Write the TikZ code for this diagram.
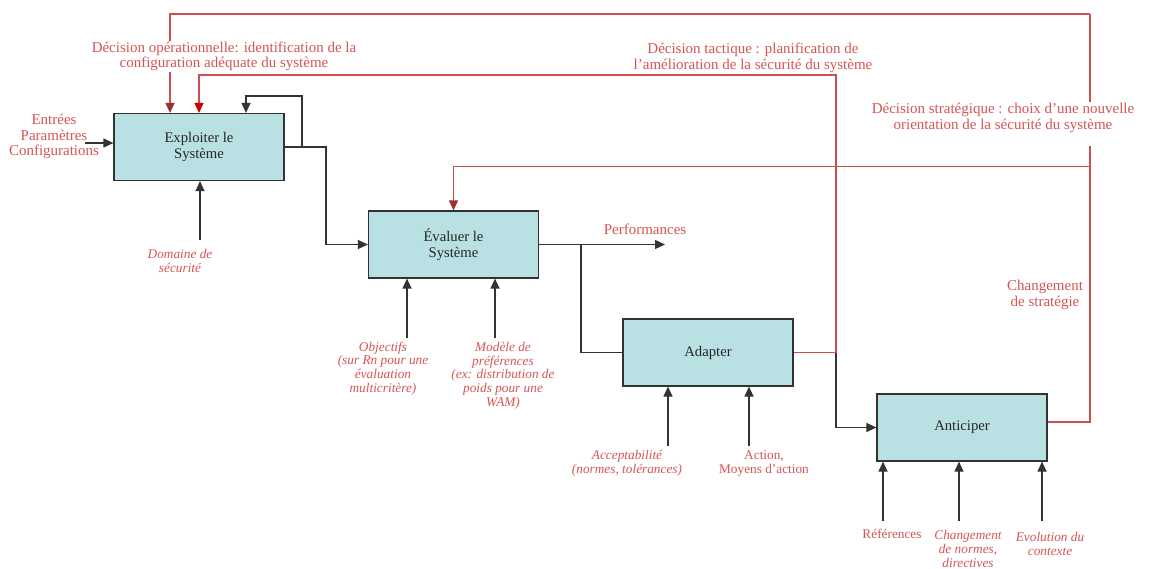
\documentclass[tikz,border=0pt]{standalone}
\usepackage{fontspec}
\setmainfont{Liberation Serif}
\usetikzlibrary{arrows.meta}
\definecolor{boxfill}{RGB}{185,224,227}
\definecolor{boxline}{RGB}{50,50,50}
\definecolor{redline}{RGB}{205,80,80}
\definecolor{redtxt}{RGB}{214,84,84}
\definecolor{darkhead}{RGB}{158,48,48}
\definecolor{brighthead}{RGB}{204,0,0}
\begin{document}
\begin{tikzpicture}[x=1pt,y=-1pt,
  proc/.style={draw=boxline, line width=1.2pt, fill=boxfill, minimum width=170pt, minimum height=67pt, inner sep=0pt, align=center, font=\fontsize{14.7}{16}\selectfont, text=black!85},
  blk/.style={draw=black!80, line width=1.2pt},
  arr/.style={blk, -{Triangle[length=10pt,width=9pt]}},
  rl/.style={draw=redline, line width=1.2pt},
  rarrd/.style={rl, -{Triangle[length=10pt,width=9pt,color=darkhead]}},
  rarrb/.style={rl, -{Triangle[length=10pt,width=9pt,color=brighthead]}},
  lab/.style={text=redtxt, align=center, font=\fontsize{15}{15.5}\selectfont, inner sep=1pt},
  slab/.style={text=redtxt, align=center, font=\fontsize{13.3}{13.7}\selectfont, inner sep=1pt},
  ilab/.style={text=redtxt, align=center, font=\fontsize{13.3}{13.7}\selectfont\itshape, inner sep=1pt},
]
\useasboundingbox[fill=white] (0,0) rectangle (1150,568);

% process boxes
\node[proc] (expl) at (199,147) {Exploiter le\\Système};
\node[proc] (eval) at (453.5,244.5) {Évaluer le\\Système};
\node[proc] (adap) at (708,352.5) {Adapter};
\node[proc] (anti) at (962,427.5) {Anticiper};

% coordinates
\coordinate (inE) at (85,143);
\coordinate (e1) at (326,147);
\coordinate (fb) at (302,147);
\coordinate (fbl) at (246,96);
\coordinate (dom) at (200,240);
\coordinate (perf) at (665,244.5);
\coordinate (br) at (581,244.5);
\coordinate (ob) at (407,338);
\coordinate (mo) at (495,338);
\coordinate (ac) at (668,446);
\coordinate (am) at (749,446);
\coordinate (tacB) at (836,352.5);
\coordinate (tacT) at (199,75);
\coordinate (sR) at (1090,422);
\coordinate (sTop) at (1090,14);
\coordinate (opX) at (170,14);
\coordinate (sMid) at (1090,166.5);
\coordinate (r1) at (883,521);
\coordinate (r2) at (959,521);
\coordinate (r3) at (1042,521);

% red decision loops
\draw[rl] (anti.east |- sR) -- (sR) -- (sTop);
\draw[rarrd] (sTop) -- (opX) -- (opX |- expl.north);
\draw[rarrd] (sMid) -| (eval.north);
\draw[rl] (adap.east) -- (tacB);
\draw[rarrb] (tacB) |- (tacT) -- (tacT |- expl.north);

% black flows
\draw[arr] (inE) -- (inE -| expl.west);
\draw[arr] (expl.east) -- (e1) |- (eval.west);
\draw[arr] (fb) |- (fbl) -- (fbl |- expl.north);
\draw[arr] (dom) -- (dom |- expl.south);
\draw[arr] (eval.east) -- (perf);
\draw[blk] (br) |- (adap.west);
\draw[arr] (ob) -- (ob |- eval.south);
\draw[arr] (mo) -- (mo |- eval.south);
\draw[arr] (ac) -- (ac |- adap.south);
\draw[arr] (am) -- (am |- adap.south);
\draw[arr] (tacB) |- (anti.west);
\draw[arr] (r1) -- (r1 |- anti.south);
\draw[arr] (r2) -- (r2 |- anti.south);
\draw[arr] (r3) -- (r3 |- anti.south);

% labels
\node[lab] (entrees) at (54,136.5) {Entrées\\Paramètres\\Configurations};
\node[ilab] (domt) at (180,261) {Domaine de\\sécurité};
\node[lab, fill=white] (opl) at (224,56.5) {Décision opérationnelle: identification de la\\configuration adéquate du système};
\node[lab] (tacl) at (753,58) {Décision tactique : planification de\\l’amélioration de la sécurité du système};
\node[lab, fill=white] (strl) at (1003,124) {Décision stratégique : choix d’une nouvelle\\orientation de la sécurité du système\\\mbox{}};
\node[lab] (chg) at (1045,295) {Changement\\de stratégie};
\node[lab] (perft) at (645,229) {Performances};
\node[ilab] (objt) at (383,368.5) {Objectifs\\(sur Rn pour une\\évaluation\\multicritère)};
\node[ilab] (modt) at (503,375.5) {Modèle de\\préférences\\(ex: distribution de\\poids pour une\\WAM)};
\node[ilab] (acct) at (627,463.5) {Acceptabilité\\(normes, tolérances)};
\node[slab] (actt) at (764,463.5) {Action,\\Moyens d’action};
\node[slab] (reft) at (892,534) {Références};
\node[ilab] (chnt) at (968,549) {Changement\\de normes,\\directives};
\node[ilab] (evot) at (1050,544) {Evolution du\\contexte};
\end{tikzpicture}
\end{document}
